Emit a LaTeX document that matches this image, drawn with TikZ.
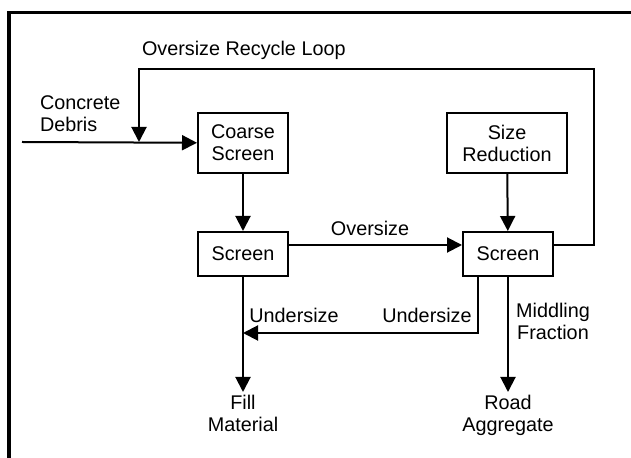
\documentclass[tikz,border=0pt]{standalone}
\usepackage{fontspec}
\setmainfont{Liberation Sans}
\usetikzlibrary {positioning}
\usetikzlibrary {arrows.meta,positioning}

\begin{document}
\begin{tikzpicture}[x=0.5pt,y=-0.5pt,->,>={Triangle[length=7.5pt,width=7.5pt]},line width=1pt,node distance=55.5pt,on grid,
every node/.style={font=\fontsize{9.9}{11}\selectfont},
box/.style={draw,-,line width=1pt,minimum width=45pt,minimum height=22pt,align=center,inner sep=2pt},
lbl/.style={align=center,inner sep=1pt}]
\useasboundingbox (0,0) rectangle (631,458);
\draw[-,line width=1.8pt] (9,458) |- (631,12.5);

\node[box,minimum height=30pt] (coarse) at (243,143) {Coarse\\Screen};
\node[box,minimum height=30pt,minimum width=60pt] (size) at (507,143) {Size\\Reduction};
\node[box] (scr1) [below =of coarse] {Screen};
\node[box] (scr2) at (508,254) {Screen};
\node[lbl,anchor=north] (fill) at (243,392) {Fill\\Material};
\node[lbl,anchor=north] (road) at (508,392) {Road\\Aggregate};

\coordinate (feed)  at (22,142);
\coordinate (merge) at (139,142);
\coordinate (loop)  at (594,69);
\coordinate (join)  at (243,333);

\node[lbl,anchor=west,align=left] (debris) at (37,114) {Concrete\\Debris};
\node[lbl,anchor=west] (recycle) at (139,50) {Oversize Recycle Loop};
\node[lbl] (over)   at (370,228) {Oversize};
\node[lbl] (under1) at (294,315) {Undersize};
\node[lbl] (under2) at (427,315) {Undersize};
\node[lbl] (middle) at (553,321) {Middling\\Fraction};

\draw (feed) -- (coarse);
\draw (coarse) -- (scr1);
\draw (size) -- (scr2);
\draw ([yshift=4.5pt]scr1.east) -- ([yshift=4.5pt]scr2.west);
\draw ([yshift=4.5pt]scr2.east) -| (loop) -| (merge);
\draw ([xshift=-15pt]scr2.south) |- (join);
\draw (scr1) -- (fill);
\draw (scr2) -- (road);


\end{tikzpicture}
\end{document}
